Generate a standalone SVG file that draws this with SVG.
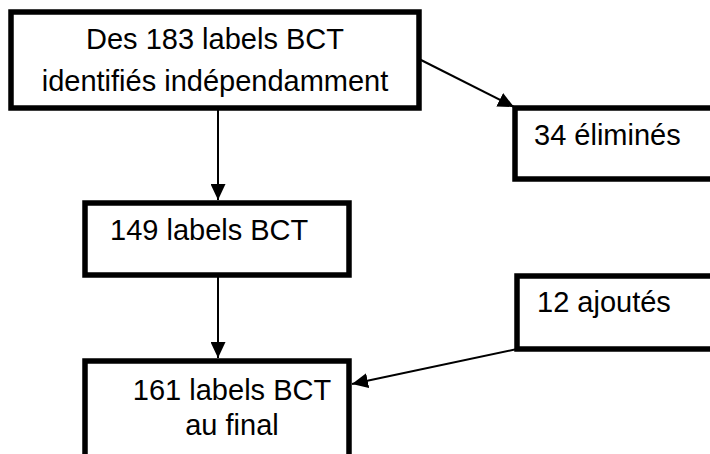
<svg xmlns="http://www.w3.org/2000/svg" width="710" height="454" viewBox="0 0 710 454">
<style>
.box{fill:#fff;stroke:#000;stroke-width:5.5}
.t{font-family:"Liberation Sans",Arial,sans-serif;font-size:29px;fill:#000}
.c{stroke:#000;stroke-width:2;fill:none}
</style>
<defs>
<marker id="ah" markerUnits="userSpaceOnUse" markerWidth="16" markerHeight="15" refX="16" refY="7.5" orient="auto">
<path d="M0,0 L16,7.5 L0,15 z" fill="#000"/>
</marker>
</defs>
<rect width="710" height="454" fill="#fff"/>
<g id="connectors">
<line class="c" x1="419" y1="59" x2="514" y2="107" marker-end="url(#ah)"/>
<line class="c" x1="218" y1="108" x2="218" y2="200" marker-end="url(#ah)"/>
<line class="c" x1="218" y1="275" x2="218" y2="358" marker-end="url(#ah)"/>
<line class="c" x1="517" y1="349" x2="352" y2="384" marker-end="url(#ah)"/>
</g>
<g id="n1">
<rect class="box" x="11" y="12" width="408" height="96"/>
<text class="t" x="215" y="49" text-anchor="middle">Des 183 labels BCT</text>
<text class="t" x="215" y="91" text-anchor="middle">identifiés indépendamment</text>
</g>
<g id="n2">
<rect class="box" x="515" y="108" width="210" height="71"/>
<text class="t" x="534" y="145">34 éliminés</text>
</g>
<g id="n3">
<rect class="box" x="85" y="203" width="264" height="72"/>
<text class="t" x="110" y="240">149 labels BCT</text>
</g>
<g id="n4">
<rect class="box" x="517" y="276" width="210" height="73"/>
<text class="t" x="537" y="312">12 ajoutés</text>
</g>
<g id="n5">
<rect class="box" x="85" y="361" width="264" height="110"/>
<text class="t" x="232" y="400" text-anchor="middle">161 labels BCT</text>
<text class="t" x="232" y="435" text-anchor="middle">au final</text>
</g>
</svg>
